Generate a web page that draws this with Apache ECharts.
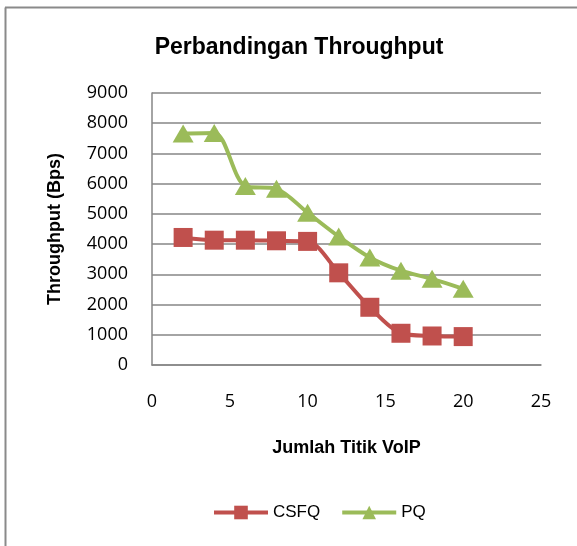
<!DOCTYPE html>
<html>
<head>
<meta charset="utf-8">
<script src="https://cdn.jsdelivr.net/npm/echarts@6/dist/echarts.min.js"></script>
<style>html,body{margin:0;padding:0;background:#fff}#c{width:577px;height:546px}</style>
</head>
<body>
<div id="c"></div>
<script>
const xValues = [2, 4, 6, 8, 10, 12, 14, 16, 18, 20];
const csfq = [4220, 4130, 4130, 4110, 4090, 3050, 1910, 1050, 960, 940];
const pq = [7660, 7680, 5920, 5830, 5040, 4250, 3560, 3120, 2850, 2520];
const seriesNames = ['CSFQ', 'PQ'];

const chart = echarts.init(document.getElementById('c'));
const narrow = "'Liberation Sans Narrow', 'Arial Narrow', 'Liberation Sans', sans-serif";
const regular = "'Open Sans', 'Noto Sans', sans-serif";
chart.setOption({
  animation: false,
  backgroundColor: '#fff',
  title: {
    text: 'Perbandingan Throughput',
    left: 294, top: 31, textAlign: 'center',
    textStyle: { fontFamily: narrow, fontWeight: 'bold', fontSize: 23, color: '#000' }
  },
  graphic: [
    { type: 'line', shape: { x1: 5.5, y1: 546, x2: 5.5, y2: 7.5 }, style: { stroke: '#8a8a8a', lineWidth: 2 } },
    { type: 'line', shape: { x1: 5, y1: 7.5, x2: 577, y2: 7.5 }, style: { stroke: '#8a8a8a', lineWidth: 2 } }
  ],
  grid: { left: 152, top: 93, right: 36, bottom: 181, containLabel: false },
  legend: {
    data: seriesNames,
    left: 207, top: 499, itemWidth: 54, itemHeight: 17, itemGap: 20,
    lineStyle: { width: 4 },
    textStyle: { fontFamily: narrow, fontSize: 17, color: '#000' }
  },
  xAxis: {
    type: 'value', min: 0, max: 25, interval: 5,
    name: 'Jumlah Titik VoIP', nameLocation: 'middle', nameGap: 74,
    nameTextStyle: { fontFamily: narrow, fontWeight: 'bold', fontSize: 18, color: '#000' },
    axisLine: { show: true, lineStyle: { color: '#868686', width: 1.5 } },
    axisTick: { show: false },
    splitLine: { show: false },
    axisLabel: { margin: 28, fontFamily: regular, fontSize: 18, color: '#000' }
  },
  yAxis: {
    type: 'value', min: 0, max: 9000, interval: 1000,
    name: 'Throughput (Bps)', nameLocation: 'middle', nameGap: 88,
    nameTextStyle: { fontFamily: narrow, fontWeight: 'bold', fontSize: 18, color: '#000' },
    axisLine: { show: true, lineStyle: { color: '#868686', width: 1.5 } },
    axisTick: { show: false },
    splitLine: { show: true, lineStyle: { color: '#868686', width: 1.5 } },
    axisLabel: { margin: 24, fontFamily: regular, fontSize: 18, color: '#000', formatter: v => String(v) }
  },
  series: [
    {
      name: seriesNames[0], type: 'line', smooth: 0.3,
      data: xValues.map((x, i) => [x, csfq[i]]),
      symbol: 'rect', symbolSize: 19,
      lineStyle: { color: '#C0504D', width: 4 },
      itemStyle: { color: '#C0504D' }
    },
    {
      name: seriesNames[1], type: 'line', smooth: 0.3,
      data: xValues.map((x, i) => [x, pq[i]]),
      symbol: 'triangle', symbolSize: [21, 18],
      lineStyle: { color: '#9BBB59', width: 4 },
      itemStyle: { color: '#9BBB59' }
    }
  ]
});
</script>
</body>
</html>
